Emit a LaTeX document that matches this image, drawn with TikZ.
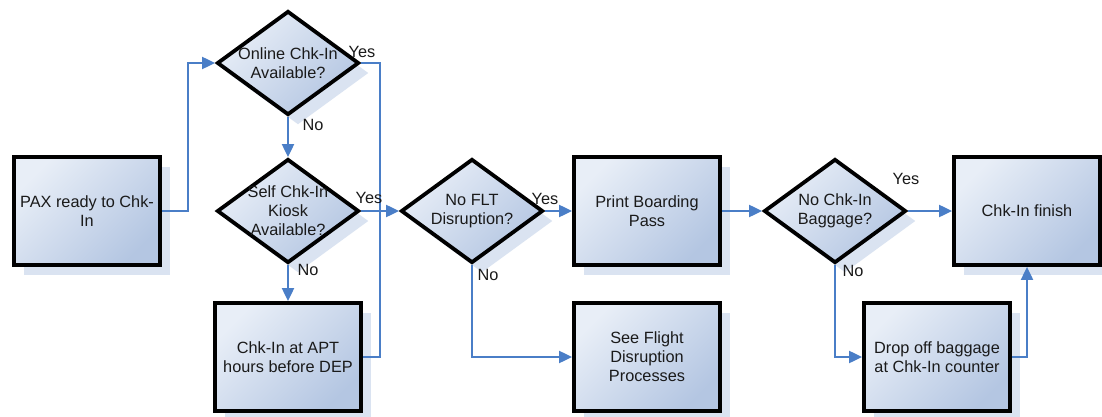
\documentclass[tikz,border=0pt]{standalone}
\usepackage{fontspec}
\setmainfont{Liberation Sans}
\usetikzlibrary{shapes.geometric,shadows,arrows.meta}
\definecolor{gradA}{HTML}{E8EEF7}
\definecolor{gradB}{HTML}{B4C6E2}
\definecolor{shadowc}{HTML}{DAE3F1}
\definecolor{linec}{HTML}{4A7EC7}
\definecolor{textc}{HTML}{1A1A1A}
\begin{document}
\begin{tikzpicture}[x=1pt,y=-1pt,
  shapebase/.style={draw=black, line width=3.8pt, top color=gradA, bottom color=gradB, shading angle=45,
    drop shadow={shadow xshift=10pt, shadow yshift=-10pt, fill=shadowc, opacity=1}},
  procbox/.style={shapebase, rectangle, minimum width=146pt, minimum height=108pt, inner sep=0pt},
  decision/.style={shapebase, diamond, minimum width=142pt, minimum height=104pt, inner sep=0pt, line join=miter},
  txt/.style={font=\fontsize{16.3}{19}\selectfont, align=center, text=textc, inner sep=0pt},
  lbl/.style={font=\fontsize{16.3}{19}\selectfont, text=textc, inner sep=0pt},
  conn/.style={draw=linec, line width=2pt},
  arr/.style={conn, -{Triangle[length=13pt,width=12pt]}}
]
\useasboundingbox (0,0) rectangle (1102,417);
\fill[white] (0,0) rectangle (1102,417);

% shapes
\node[procbox] (pax) at (87,211) {};
\node[decision] (online) at (288,63) {};
\node[decision] (self) at (288,211) {};
\node[procbox] (apt) at (288,357) {};
\node[decision] (noflt) at (472,211) {};
\node[procbox] (print) at (647,211) {};
\node[procbox] (see) at (647,357) {};
\node[decision] (nochk) at (835,211) {};
\node[procbox] (finish) at (1027,211) {};
\node[procbox] (drop) at (937,357) {};

% texts
\node[txt] (paxt) at (pax) {PAX ready to Chk-\\In};
\node[txt] (onlinet) at (online) {Online Chk-In\\Available?};
\node[txt] (selft) at (self) {Self Chk-In\\Kiosk\\Available?};
\node[txt] (aptt) at (apt) {Chk-In at APT\\hours before DEP};
\node[txt] (noflt_t) at (noflt) {No FLT\\Disruption?};
\node[txt] (printt) at (print) {Print Boarding\\Pass};
\node[txt] (seet) at (see) {See Flight\\Disruption\\Processes};
\node[txt] (nochkt) at (nochk) {No Chk-In\\Baggage?};
\node[txt] (finisht) at (finish) {Chk-In finish};
\node[txt] (dropt) at (drop) {Drop off baggage\\at Chk-In counter};

% connectors
\coordinate (j1) at (380,63);
\coordinate (j2) at (380,357);
\draw[arr] (pax.east) -- ++(26,0) |- (online.west);
\draw[arr] (online.south) -- (self.north);
\draw[conn] (online.east) -- (j1) -- (j2) -- (apt.east);
\draw[arr] (self.east) -- (noflt.west);
\draw[arr] (self.south) -- (apt.north);
\draw[arr] (noflt.east) -- (print.west);
\draw[arr] (noflt.south) |- (see.west);
\draw[arr] (print.east) -- (nochk.west);
\draw[arr] (nochk.east) -- (finish.west);
\draw[arr] (nochk.south) |- (drop.west);
\draw[arr] (drop.east) -| (finish.south);

% labels
\node[lbl] (l1) at (362,52) {Yes};
\node[lbl] (l2) at (313,125) {No};
\node[lbl] (l3) at (369,198) {Yes};
\node[lbl] (l4) at (308,270) {No};
\node[lbl] (l5) at (545,199) {Yes};
\node[lbl] (l6) at (488,275) {No};
\node[lbl] (l7) at (906,179) {Yes};
\node[lbl] (l8) at (853,271) {No};
\end{tikzpicture}
\end{document}
